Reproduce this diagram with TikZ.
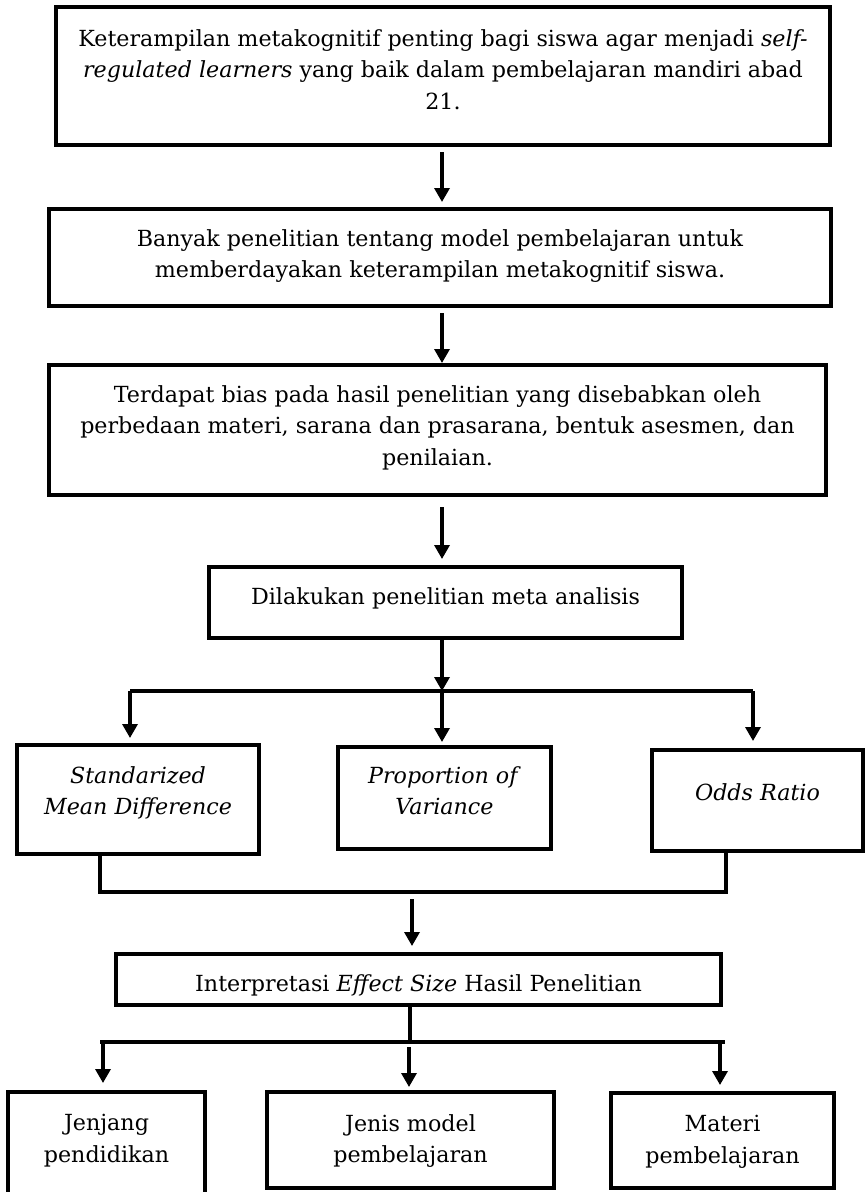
\documentclass[tikz,border=0pt]{standalone}
\usepackage{fontspec}
\setmainfont{DejaVu Serif}
\usetikzlibrary{arrows.meta,positioning,fit}
\colorlet{boxline}{black}
\tikzset{
  box/.style={draw=boxline,line width=4pt,inner sep=0pt},
  txt/.style={align=center,inner sep=0pt,font=\fontsize{22.2}{31.5}\selectfont},
  link/.style={draw=boxline,line width=3.3pt},
  flow/.style={link,-{Triangle[length=14pt,width=15pt]}},
}

\begin{document}
\begin{tikzpicture}[x=1pt,y=-1pt]
  \useasboundingbox (0,0) rectangle (867,1192);
  % boxes
  \node[box,fit={(56,7) (830,145)}] (b1) {};
  \node[box,fit={(49,209) (831,306)}] (b2) {};
  \node[box,fit={(49,365) (826,495)}] (b3) {};
  \node[box,fit={(209,567) (682,638)}] (b4) {};
  \node[box,fit={(17,745) (259,854)}] (smd) {};
  \node[box,fit={(338,747) (551,849)}] (pov) {};
  \node[box,fit={(652,750) (863,851)}] (odds) {};
  \node[box,fit={(116,954) (721,1005)}] (interp) {};
  \node[box,fit={(8,1092) (205,1200)}] (jen) {};
  \node[box,fit={(267,1092) (554,1188)}] (model) {};
  \node[box,fit={(611,1093) (834,1188)}] (mat) {};
  % texts
  \node[txt,below=24pt of b1.north] (t1) {Keterampilan metakognitif penting bagi siswa agar menjadi \textit{self-}\\\textit{regulated learners} yang baik dalam pembelajaran mandiri abad\\21.};
  \node[txt,below=22pt of b2.north] (t2) {Banyak penelitian tentang model pembelajaran untuk\\memberdayakan keterampilan metakognitif siswa.};
  \node[txt,below=22pt of b3.north] (t3) {Terdapat bias pada hasil penelitian yang disebabkan oleh\\perbedaan materi, sarana dan prasarana, bentuk asesmen, dan\\penilaian.};
  \node[txt,below=22pt of b4.north] (t4) {Dilakukan penelitian meta analisis};
  \node[txt,below=23pt of smd.north] (tsmd) {\textit{Standarized}\\\textit{Mean Difference}};
  \node[txt,below=21pt of pov.north] (tpov) {\textit{Proportion of}\\\textit{Variance}};
  \node[txt,below=35pt of odds.north] (todds) {\textit{Odds Ratio}};
  \node[txt,below=22pt of interp.north] (tinterp) {Interpretasi \textit{Effect Size} Hasil Penelitian};
  \node[txt,below=24pt of jen.north] (tjen) {Jenjang\\pendidikan};
  \node[txt,below=24pt of model.north] (tmodel) {Jenis model\\pembelajaran};
  \node[txt,below=24pt of mat.north] (tmat) {Materi\\pembelajaran};
  % main line
  \coordinate (spine) at (442,0);
  \draw[flow,shorten <=5pt,shorten >=5pt] (b1.south -| spine) -- (b2.north -| spine);
  \draw[flow,shorten <=5pt] (b2.south -| spine) -- (b3.north -| spine);
  \draw[flow,shorten <=10pt,shorten >=6pt] (b3.south -| spine) -- (b4.north -| spine);
  % first fork
  \coordinate (f1) at (442,691);
  \coordinate (f1l) at (130,691);
  \coordinate (f1r) at (753,691);
  \draw[flow] (b4.south -| spine) -- (f1);
  \draw[link] (f1l) -- (f1r);
  \foreach \c/\n/\s in {f1l/smd/5pt, f1/pov/3pt, f1r/odds/7pt}
    \draw[flow,shorten >=\s] (\c) -- (\c |- \n.north);
  % merge
  \coordinate (ml) at (100,892);
  \coordinate (mr) at (726,892);
  \draw[link] (smd.south -| ml) -- (ml) -- (mr) -- ([yshift=4pt]odds.south -| mr);
  \coordinate (m1) at (412,899);
  \draw[flow,shorten >=6pt] (m1) -- (m1 |- interp.north);
  % second fork
  \coordinate (f2) at (410,1042);
  \coordinate (f2l) at (100,1042);
  \coordinate (f2r) at (725,1042);
  \draw[link] (interp.south -| f2) -- (f2);
  \draw[link] (f2l) -- (f2r);
  \coordinate (d1) at (103,1042);
  \coordinate (d2) at (409,1047);
  \coordinate (d3) at (720,1042);
  \foreach \c/\n/\s in {d1/jen/7pt, d2/model/3pt, d3/mat/6pt}
    \draw[flow,shorten >=\s] (\c) -- (\c |- \n.north);
\end{tikzpicture}
\end{document}
